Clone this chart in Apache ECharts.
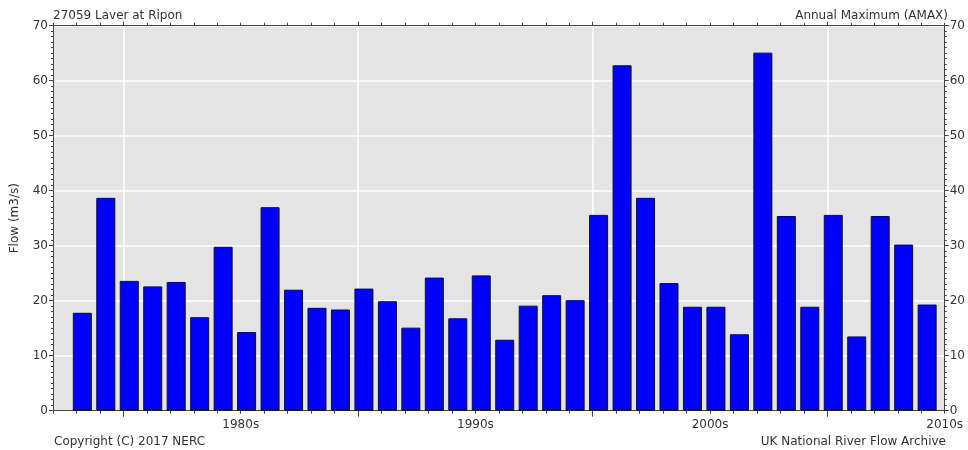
<!DOCTYPE html>
<html>
<head>
<meta charset="utf-8">
<script src="https://cdn.jsdelivr.net/npm/echarts@6/dist/echarts.min.js"></script>
<style>
html,body{margin:0;padding:0;background:#fff;}
#chart{width:968px;height:450px;}
</style>
</head>
<body>
<div id="chart"></div>
<script>
// Water years (Oct–Sep); bars are drawn at the middle of each water year
const waterYears = [1972,1973,1974,1975,1976,1977,1978,1979,1980,1981,1982,1983,1984,1985,1986,1987,1988,1989,1990,1991,1992,1993,1994,1995,1996,1997,1998,1999,2000,2001,2002,2003,2004,2005,2006,2007,2008];
const amaxFlow = [17.8,38.7,23.6,22.6,23.4,17.0,29.8,14.3,37.0,22.0,18.7,18.4,22.2,19.9,15.1,24.2,16.8,24.6,12.9,19.1,21.0,20.1,35.6,62.8,38.7,23.2,18.9,18.9,13.9,65.1,35.4,18.9,35.6,13.5,35.4,30.2,19.3];
const decadeLabelValues = [1980,1990,2000,2010];
const decadeTickValues = [1975,1985,1995,2005];
const yTicks = [0,10,20,30,40,50,60,70];

const titleLeft = '27059 Laver at Ripon';
const titleRight = 'Annual Maximum (AMAX)';
const footLeft = 'Copyright (C) 2017 NERC';
const footRight = 'UK National River Flow Archive';
const yName = 'Flow (m3/s)';

const FONT = '"DejaVu Sans", Arial, sans-serif';
const FS = 12;
const TXT = '#333';
const AX = '#444';

const chart = echarts.init(document.getElementById('chart'), null, {renderer: 'canvas'});
const xMin = 1972, xMax = 2010;

const baseX = {
  type: 'value', min: xMin, max: xMax, interval: 1, gridIndex: 0,
  axisLine: {show: true, onZero: false, lineStyle: {color: AX, width: 1}},
  axisTick: {show: true, length: 3, lineStyle: {color: AX}},
  axisLabel: {show: false},
  splitLine: {show: false}
};
const ts = {fontSize: FS, fontWeight: 'normal', color: TXT, fontFamily: FONT};

chart.setOption({
  animation: false,
  backgroundColor: '#ffffff',
  textStyle: {fontFamily: FONT},
  title: [
    {text: titleLeft, left: 48, top: 5, textStyle: ts},
    {text: titleRight, right: 15, top: 5, textStyle: ts},
    {text: footLeft, left: 49, top: 431, textStyle: ts},
    {text: footRight, right: 17, top: 431, textStyle: ts}
  ],
  grid: {left: 53, top: 25.7, width: 896, height: 385, show: true, backgroundColor: '#e4e4e4', borderWidth: 0, containLabel: false},
  xAxis: [
    Object.assign({}, baseX, {position: 'bottom'}),
    {
      type: 'value', min: xMin, max: xMax, interval: 1, gridIndex: 0, position: 'bottom',
      axisLine: {show: false, onZero: false},
      axisTick: {show: true, length: 6, customValues: decadeTickValues, lineStyle: {color: AX}},
      axisLabel: {show: true, customValues: decadeLabelValues, formatter: v => v + 's', color: TXT, fontSize: FS, fontFamily: FONT, margin: 8},
      splitLine: {show: true, lineStyle: {color: '#ffffff', width: 1.5}}
    },
    Object.assign({}, baseX, {position: 'top'}),
    {
      type: 'value', min: xMin, max: xMax, interval: 1, gridIndex: 0, position: 'top',
      axisLine: {show: false, onZero: false},
      axisTick: {show: true, length: 4, customValues: decadeTickValues, lineStyle: {color: AX}},
      axisLabel: {show: false},
      splitLine: {show: false}
    }
  ],
  yAxis: [
    {
      type: 'value', min: 0, max: 70, interval: 10, position: 'left',
      name: yName, nameLocation: 'middle', nameGap: 32, nameRotate: 90,
      nameTextStyle: {fontSize: FS, color: TXT, fontFamily: FONT},
      axisLine: {show: true, lineStyle: {color: AX}},
      axisTick: {show: true, length: 4, lineStyle: {color: AX}},
      minorTick: {show: true, splitNumber: 10, length: 2, lineStyle: {color: AX}},
      axisLabel: {color: TXT, fontSize: FS, fontFamily: FONT, margin: 5, customValues: yTicks},
      splitLine: {show: true, lineStyle: {color: '#ffffff', width: 1.5}}
    },
    {
      type: 'value', min: 0, max: 70, interval: 10, position: 'right',
      axisLine: {show: true, lineStyle: {color: AX}},
      axisTick: {show: true, length: 4, lineStyle: {color: AX}},
      minorTick: {show: true, splitNumber: 10, length: 2, lineStyle: {color: AX}},
      axisLabel: {color: TXT, fontSize: FS, fontFamily: FONT, margin: 5},
      splitLine: {show: false}
    }
  ],
  series: [{
    type: 'bar',
    xAxisIndex: 0, yAxisIndex: 0,
    barWidth: 19,
    data: waterYears.map((y, i) => [y + 1.25, amaxFlow[i]]),
    itemStyle: {color: '#0000ff', borderColor: '#111', borderWidth: 1},
    emphasis: {disabled: true}
  }]
});
</script>
</body>
</html>
